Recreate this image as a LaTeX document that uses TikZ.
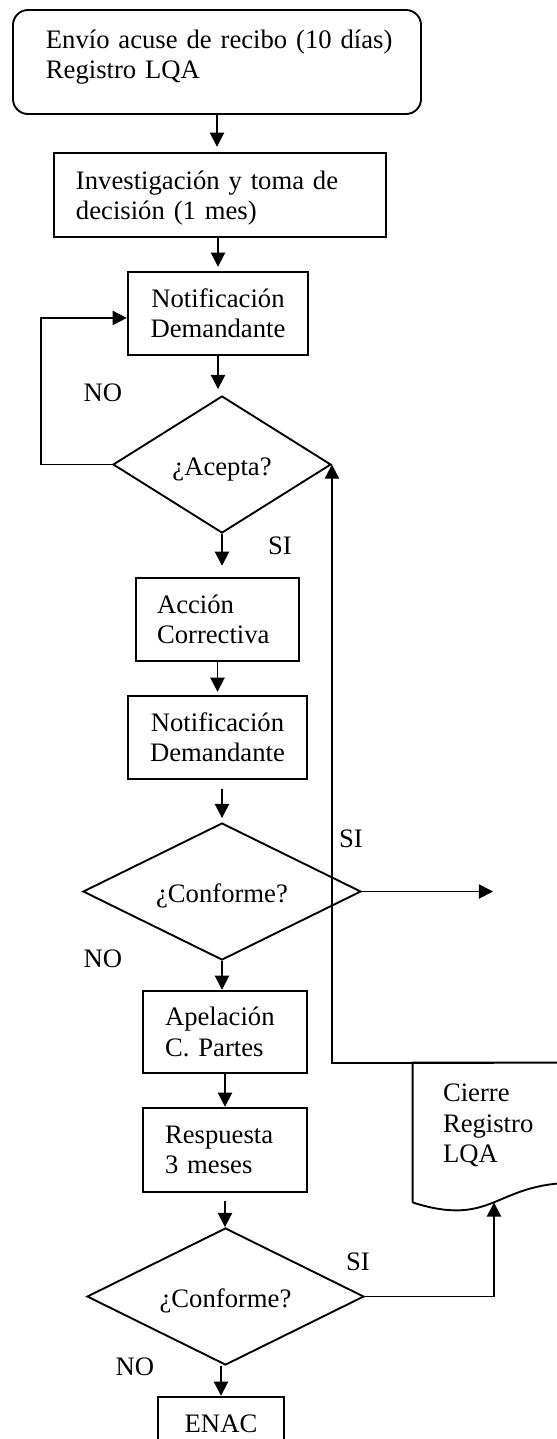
\documentclass[tikz,border=0pt]{standalone}
\usepackage{fontspec}
\setmainfont{Liberation Serif}
\usetikzlibrary{arrows.meta,shapes.geometric,calc}

\begin{document}
\begin{tikzpicture}[x=0.45pt, y=-0.45pt]
        \tikzstyle{every node}=[font=\fontsize{12}{13.7}\selectfont]
        \tikzstyle{flow}=[line width=0.85pt, -{Triangle[length=6.4pt,width=6.4pt]}]
        \tikzstyle{stepbox}=[draw, line width=1.1pt, inner sep=0pt, minimum height=37.35pt]
        \tikzstyle{leftbox}=[stepbox, align=left]
        \tikzstyle{midbox}=[stepbox, align=center]
        \tikzstyle{decision}=[draw, diamond, aspect=2, line width=0.85pt, inner sep=0pt, minimum height=61.65pt, text height=9.7pt, text depth=0pt]
        \tikzstyle{answer}=[inner sep=0pt]
        \useasboundingbox (0,0) rectangle (557,1439);
        \clip (0,0) rectangle (557,1439);

        \node[stepbox, rounded corners=6.75pt, line width=0.85pt, minimum width=183.6pt, minimum height=46.8pt, text width=154pt, align=left, text height=9pt, text depth=21.3pt] (envio) at (217,62) {\mbox{Envío acuse de recibo (10 días)}\\Registro LQA};
        \node[leftbox, minimum width=149.4pt, minimum height=37.8pt, text width=129.6pt, text height=9pt, text depth=14.1pt] (invest) at (220,195) {Investigación y toma de\\decisión (1 mes)};
        \node[midbox, minimum width=81pt, text width=70pt] (notif1) at (218,313.5) {Notificación\\Demandante};
        \node[decision, minimum width=98.1pt] (acepta) at (222,464.5) {¿Acepta?};
        \node[leftbox, minimum width=73.35pt, text width=54.45pt] (accion) at (217.5,619.5) {Acción\\Correctiva};
        \node[midbox, minimum width=80.55pt, text width=70pt] (notif2) at (217.5,737.5) {Notificación\\Demandante};
        \node[decision, minimum width=125.1pt] (conf1) at (222,891.5) {¿Conforme?};
        \node[leftbox, minimum width=73.8pt, minimum height=36.9pt, text width=54pt] (apel) at (225,1032) {Apelación\\C. Partes};
        \node[leftbox, minimum width=73.8pt, minimum height=37.8pt, text width=54pt] (resp) at (225,1150) {Respuesta\\3 meses};
        \node[decision, minimum width=124.65pt] (conf2) at (225.5,1296.5) {¿Conforme?};
        \node[midbox, minimum width=56.7pt, minimum height=23.85pt] (enac) at (221,1423.5) {ENAC};
        \node[inner sep=0pt, minimum width=72.9pt, minimum height=62.55pt, text width=45.9pt, align=left, text height=9pt, text depth=36.7pt] (cierre) at (494,1132.5) {Cierre\\Registro\\LQA};
        \draw[line width=0.85pt] (cierre.south west) -- (cierre.north west) -- (cierre.north east) -- ($(cierre.south east)+(0,-19.7)$) .. controls ($(cierre.south)+(0,-19.7)$) and ($(cierre.south)+(0,25.8)$) .. (cierre.south west);

        \node[answer] (no1) at (103,392.4) {NO};
        \node[answer] (si1) at (280,545.8) {SI};
        \node[answer] (si2) at (351,838.3) {SI};
        \node[answer] (no2) at (103,958.3) {NO};
        \node[answer] (si3) at (358,1262) {SI};
        \node[answer] (no3) at (135,1366.7) {NO};
        \coordinate (siOut) at (493,891.5);

        \draw[flow, shorten >=2.25pt] (envio.south) -- (envio.south |- invest.north);
        \draw[flow, shorten >=1.8pt] (notif1.north |- invest.south) -- (notif1.north);
        \draw[flow, shorten >=2.7pt] (notif1.south) -- (notif1.south |- acepta.north);
        \draw[flow, shorten >=4.95pt] (acepta.south) -- (acepta.south |- accion.north);
        \draw[flow, shorten >=1.35pt] (accion.south) -- (notif2.north);
        \draw[flow, shorten <=4.05pt, shorten >=1.8pt] (conf1.north |- notif2.south) -- (conf1.north);
        \draw[flow] (conf1.south) -- (conf1.south |- apel.north);
        \draw[flow] (apel.south) -- (resp.north);
        \draw[flow, shorten <=3.6pt] (resp.south) -- (resp.south |- conf2.north);
        \draw[flow] (enac.north |- conf2.south) -- (enac.north);
        \draw[flow] (acepta.west) -- ++(-71,0) |- ([yshift=-2pt]notif1.west);
        \draw[flow] (conf1.east) -- (siOut);
        \draw[flow] (cierre.north) -| (acepta.east);
        \draw[flow] (conf2.east) -| (cierre.south);
    \end{tikzpicture}
\end{document}
